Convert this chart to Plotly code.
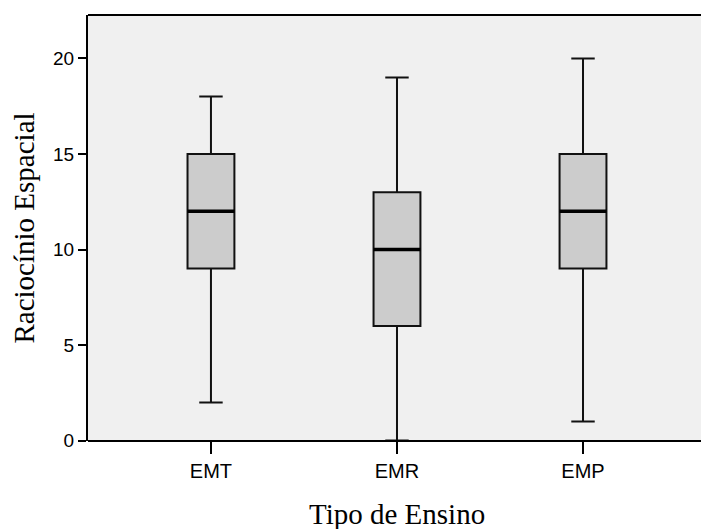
import plotly.graph_objects as go

categories = ["EMT", "EMR", "EMP"]
lower_whisker = [2, 0, 1]
q1 = [9, 6, 9]
median = [12, 10, 12]
q3 = [15, 13, 15]
upper_whisker = [18, 19, 20]
y_ticks = [0, 5, 10, 15, 20]

pos = list(range(len(categories)))
BOX_W = 0.252

W, H = 701, 529
ML, MR, MT, MB = 88, 30, 15, 88
# the reference's plot area runs off the right edge of the image:
# extend background, top and bottom borders to the window edge
X_EXT = (W - ML) / (W - ML - MR)

fig = go.Figure()
fig.add_trace(go.Box(
    x=pos, q1=q1, median=median, q3=q3,
    lowerfence=lower_whisker, upperfence=upper_whisker,
    width=BOX_W, whiskerwidth=0.5,
    fillcolor="#CCCCCC", line=dict(color="#111111", width=2),
    boxpoints=False, showlegend=False, hoverinfo="skip",
))
mx, my = [], []
for p, m in zip(pos, median):
    mx += [p - BOX_W / 2, p + BOX_W / 2, None]
    my += [m, m, None]
fig.add_trace(go.Scatter(x=mx, y=my, mode="lines",
                         line=dict(color="#000000", width=3.5),
                         showlegend=False, hoverinfo="skip"))

fig.add_shape(type="rect", xref="paper", yref="paper", x0=0, x1=X_EXT, y0=0, y1=1,
              fillcolor="#F0F0F0", line=dict(width=0), layer="below")
fig.add_shape(type="line", xref="paper", yref="paper", x0=0, x1=X_EXT, y0=1, y1=1,
              line=dict(color="black", width=2))
fig.add_shape(type="line", xref="paper", yref="paper", x0=0, x1=X_EXT, y0=0, y1=0,
              line=dict(color="black", width=2))

# x-axis title, centred under the middle category like the reference
fig.add_annotation(text="Tipo de Ensino", xref="x", yref="paper",
                   x=pos[1], y=0, xanchor="center", yanchor="middle", yshift=-73,
                   showarrow=False,
                   font=dict(family="Liberation Serif, Times New Roman", size=29))

fig.update_layout(
    width=W, height=H,
    margin=dict(l=ML, r=MR, t=MT, b=MB),
    paper_bgcolor="white", plot_bgcolor="#F0F0F0",
    font=dict(family="Liberation Sans, Arial", color="black"),
)
fig.update_xaxes(
    range=[-0.661, 2.473],
    tickvals=pos, ticktext=categories,
    tickfont=dict(size=20),
    ticks="outside", ticklen=12, tickwidth=2, tickcolor="black",
    showline=False, showgrid=False, zeroline=False, automargin=False,
)
fig.update_yaxes(
    range=[-0.02, 22.27],
    tickvals=y_ticks,
    tickfont=dict(size=19),
    ticks="outside", ticklen=8, tickwidth=2, tickcolor="black",
    showline=True, linecolor="black", linewidth=2, mirror=False,
    showgrid=False, zeroline=False, automargin=False,
    title=dict(text="Raciocínio Espacial",
               font=dict(family="Liberation Serif, Times New Roman", size=29),
               standoff=10),
)

fig.write_html("out.html")
